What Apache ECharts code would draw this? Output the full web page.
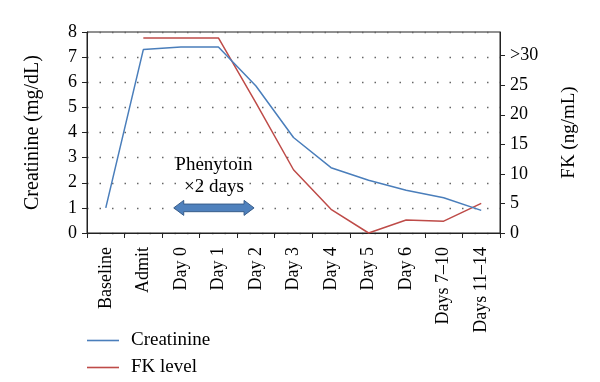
<!DOCTYPE html>
<html>
<head>
<meta charset="utf-8">
<script src="https://cdn.jsdelivr.net/npm/echarts@6/dist/echarts.min.js"></script>
<style>html,body{margin:0;padding:0;background:#fff}#c{width:600px;height:382px}</style>
</head>
<body>
<div id="c"></div>
<script>
var categories = ['Baseline','Admit','Day 0','Day 1','Day 2','Day 3','Day 4','Day 5','Day 6','Days 7\u201310','Days 11\u201314'];
var creatinine = [1.0, 7.3, 7.4, 7.4, 5.85, 3.8, 2.6, 2.1, 1.7, 1.4, 0.9];
var fkLevel = [null, 33, 33, 33, 22, 10.7, 4.0, 0, 2.2, 2.0, 5.0];
var leftTicks = [0,1,2,3,4,5,6,7,8];
var rightTickLabels = {0:'0',5:'5',10:'10',15:'15',20:'20',25:'25',30:'>30'};
var annotation = {line1:'Phenytoin', line2:'\u00d72 days', fromIndex:1.81, toIndex:3.95, yValue:1};

var FONT = '"Liberation Serif", "Times New Roman", serif';
var chart = echarts.init(document.getElementById('c'));
function legendFor(name, top){
  return {
    orient: 'vertical', left: 87, top: top, padding: 0, itemWidth: 32, itemHeight: 1.6,
    icon: 'rect', data: [name],
    textStyle: {fontFamily: FONT, fontSize: 19, color: '#000', padding: [0,0,0,7]}
  };
}
var option = {
  animation: false,
  backgroundColor: '#fff',
  textStyle: {fontFamily: FONT, color: '#000'},
  grid: {left: 87, right: 100, top: 32, bottom: 149, show: true, borderColor: '#222', borderWidth: 1, containLabel: false},
  legend: [legendFor('Creatinine', 331), legendFor('FK level', 358)],
  xAxis: {
    type: 'category', data: categories, boundaryGap: true,
    axisLine: {lineStyle: {color: '#222', width: 1}},
    axisTick: {show: true, length: 5, inside: false, lineStyle: {color: '#222'}},
    axisLabel: {rotate: 90, interval: 0, margin: 14, fontFamily: FONT, fontSize: 18, color: '#000'}
  },
  yAxis: [{
    type: 'value', min: 0, max: 8, interval: 1,
    name: 'Creatinine (mg/dL)', nameLocation: 'middle', nameRotate: 90, nameGap: 44,
    nameTextStyle: {fontFamily: FONT, fontSize: 20, color: '#000'},
    axisLine: {show: true, lineStyle: {color: '#222'}},
    axisTick: {show: true, length: 5, lineStyle: {color: '#222'}},
    axisLabel: {margin: 10, fontFamily: FONT, fontSize: 18, color: '#000',
      formatter: function(v){ return leftTicks.indexOf(v) >= 0 ? String(v) : ''; }},
    splitLine: {show: true, lineStyle: {color: '#666', width: 1.3, type: [1.5, 11]}}
  },{
    type: 'value', min: 0, max: 34, interval: 5, position: 'right',
    name: 'FK (ng/mL)', nameLocation: 'middle', nameRotate: 90, nameGap: 60,
    nameTextStyle: {fontFamily: FONT, fontSize: 19, color: '#000'},
    axisLine: {show: true, lineStyle: {color: '#222'}},
    axisTick: {show: true, length: 5, lineStyle: {color: '#222'}},
    axisLabel: {margin: 10, fontFamily: FONT, fontSize: 18, color: '#000', showMaxLabel: false,
      formatter: function(v){ return rightTickLabels[v] !== undefined ? rightTickLabels[v] : ''; }},
    splitLine: {show: false}
  }],
  series: [{
    name: 'Creatinine', type: 'line', yAxisIndex: 0, data: creatinine,
    symbol: 'none', showSymbol: false,
    lineStyle: {color: '#4a7ebb', width: 1.5}, itemStyle: {color: '#4a7ebb'}, z: 3
  },{
    name: 'FK level', type: 'line', yAxisIndex: 1, data: fkLevel,
    symbol: 'none', showSymbol: false, connectNulls: false,
    lineStyle: {color: '#be4b48', width: 1.5}, itemStyle: {color: '#be4b48'}, z: 2
  }]
};
chart.setOption(option);

function catX(f){
  var i0 = Math.floor(f), i1 = i0 + 1;
  var p0 = chart.convertToPixel({xAxisIndex:0}, i0);
  var p1 = chart.convertToPixel({xAxisIndex:0}, i1);
  return p0 + (p1 - p0) * (f - i0);
}
var x1 = catX(annotation.fromIndex), x2 = catX(annotation.toIndex);
var yc = chart.convertToPixel({yAxisIndex:0}, annotation.yValue);
var hh = 7.5, sh = 3.8, hl = 10;
var pts = [[x1,yc],[x1+hl,yc-hh],[x1+hl,yc-sh],[x2-hl,yc-sh],[x2-hl,yc-hh],[x2,yc],[x2-hl,yc+hh],[x2-hl,yc+sh],[x1+hl,yc+sh],[x1+hl,yc+hh]];
var cx = (x1 + x2) / 2;
chart.setOption({graphic: [
  {type:'polygon', shape:{points: pts}, style:{fill:'#4f81bd', stroke:'#385d8a', lineWidth:1}, z: 10},
  {type:'text', x: cx, y: yc - 43, style:{text: annotation.line1, font: '19px ' + FONT, fill:'#000', align:'center', verticalAlign:'middle'}, z: 10},
  {type:'text', x: cx, y: yc - 21, style:{text: annotation.line2, font: '19px ' + FONT, fill:'#000', align:'center', verticalAlign:'middle'}, z: 10}
]});
</script>
</body>
</html>
